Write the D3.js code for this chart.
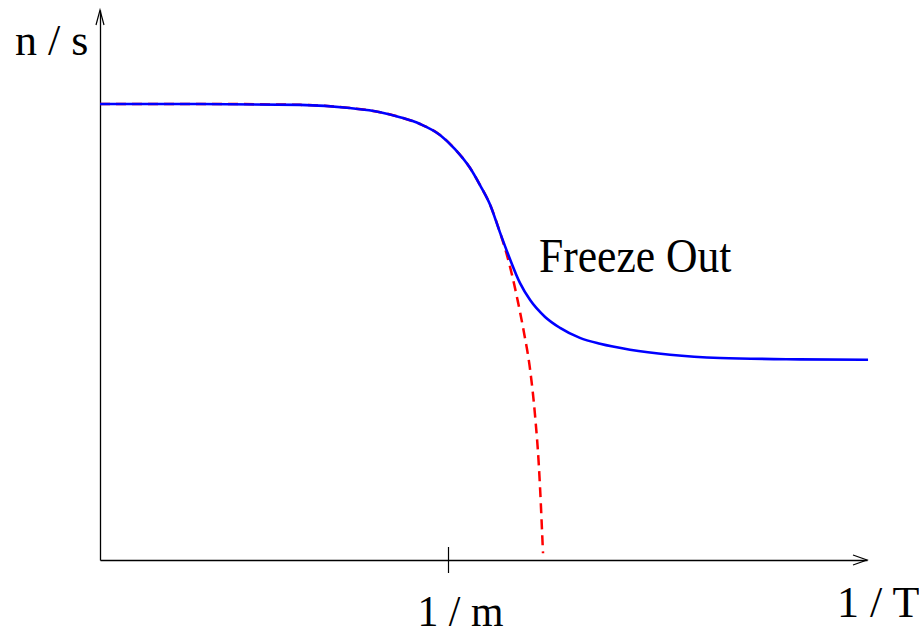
<!DOCTYPE html>
<html>
<head>
<meta charset="utf-8">
<script src="https://cdn.jsdelivr.net/npm/d3@7"></script>
<style>
  body { margin: 0; background: #fff; }
</style>
</head>
<body>
<div id="js_plot"></div>
<script>
// Freeze-out sketch: n/s against 1/T (units of 1/m)
const xLabel = "1 / T";
const yLabel = "n / s";
const tickValues = [1];
const tickLabels = ["1 / m"];
const note = "Freeze Out";

// actual abundance (blue, solid)
const blueX = [0, 0.287, 0.575, 0.718, 0.805, 0.862, 0.920, 0.977, 1.020, 1.063, 1.092, 1.121, 1.149, 1.178, 1.207, 1.236, 1.279, 1.322, 1.379, 1.437, 1.523, 1.638, 1.782, 2.011, 2.207];
const blueY = [1.0, 1.0, 0.998, 0.991, 0.982, 0.971, 0.956, 0.932, 0.901, 0.860, 0.822, 0.779, 0.719, 0.660, 0.607, 0.570, 0.533, 0.509, 0.487, 0.474, 0.461, 0.450, 0.443, 0.440, 0.439];

// equilibrium abundance (red, dashed)
const redX = [0, 0.287, 0.575, 0.718, 0.805, 0.862, 0.920, 0.977, 1.020, 1.063, 1.092, 1.121, 1.149, 1.167, 1.184, 1.201, 1.218, 1.236, 1.250, 1.261, 1.273];
const redY = [1.0, 1.0, 0.998, 0.991, 0.982, 0.971, 0.956, 0.932, 0.901, 0.860, 0.822, 0.779, 0.719, 0.675, 0.625, 0.566, 0.500, 0.417, 0.318, 0.208, 0.015];

const width = 919, height = 634;
const x0 = 100, y0 = 560;
const serif = "'Liberation Serif'";

const svg = d3.select("#js_plot").append("svg")
    .attr("width", width)
    .attr("height", height);

const x = d3.scaleLinear().domain([0, 2.204]).range([x0, 867]);
const y = d3.scaleLinear().domain([0, 1.206]).range([y0, 10]);

// x axis
const gx = svg.append("g")
    .attr("transform", "translate(0," + y0 + ")")
    .call(d3.axisBottom(x).tickValues(tickValues).tickSizeOuter(0)
        .tickFormat((d, i) => tickLabels[i]));
gx.attr("font-family", null).attr("font-size", null);
gx.select(".domain").attr("stroke", "#000").attr("stroke-width", 1.3);
gx.selectAll(".tick line").attr("y1", -13).attr("y2", 13).attr("stroke", "#000").attr("stroke-width", 1.2);
gx.selectAll(".tick text")
    .attr("x", 0).attr("y", 0).attr("dy", null)
    .attr("transform", "translate(-31,66) scale(0.95,1)")
    .style("font-family", serif)
    .style("font-size", "44px")
    .attr("fill", "#000")
    .attr("text-anchor", "start");

// y axis
const gy = svg.append("g")
    .attr("transform", "translate(" + x0 + ",0)")
    .call(d3.axisLeft(y).tickValues([]).tickSizeOuter(0));
gy.select(".domain").attr("stroke", "#000").attr("stroke-width", 1.3);

// open arrow heads
const head = d3.line();
svg.append("path")
    .attr("d", head([[853, y0 - 5], [867, y0], [853, y0 + 5]]))
    .attr("fill", "none").attr("stroke", "#000").attr("stroke-width", 1.2);
svg.append("path")
    .attr("d", head([[x0 - 4, 25], [x0, 10], [x0 + 4, 25]]))
    .attr("fill", "none").attr("stroke", "#000").attr("stroke-width", 1.2);

// curves
const line = d3.line()
    .x(d => x(d[0]))
    .y(d => y(d[1]))
    .curve(d3.curveMonotoneX);

svg.append("path")
    .datum(d3.zip(redX, redY))
    .attr("d", line)
    .attr("fill", "none")
    .attr("stroke", "#ff0000")
    .attr("stroke-width", 2.5)
    .attr("stroke-dasharray", "10,6");

svg.append("path")
    .datum(d3.zip(blueX, blueY))
    .attr("d", line)
    .attr("fill", "none")
    .attr("stroke", "#0000ff")
    .attr("stroke-width", 2.6);

// labels
function label(tx, ty, size, sx, str) {
    svg.append("text")
        .attr("transform", "translate(" + tx + "," + ty + ") scale(" + sx + ",1)")
        .style("font-family", serif)
        .style("font-size", size + "px")
        .attr("fill", "#000")
        .text(str);
}
label(15, 55, 44, 1, yLabel);
label(837, 617, 44, 1, xLabel);
label(539, 272, 49, 0.89, note);
</script>
</body>
</html>
